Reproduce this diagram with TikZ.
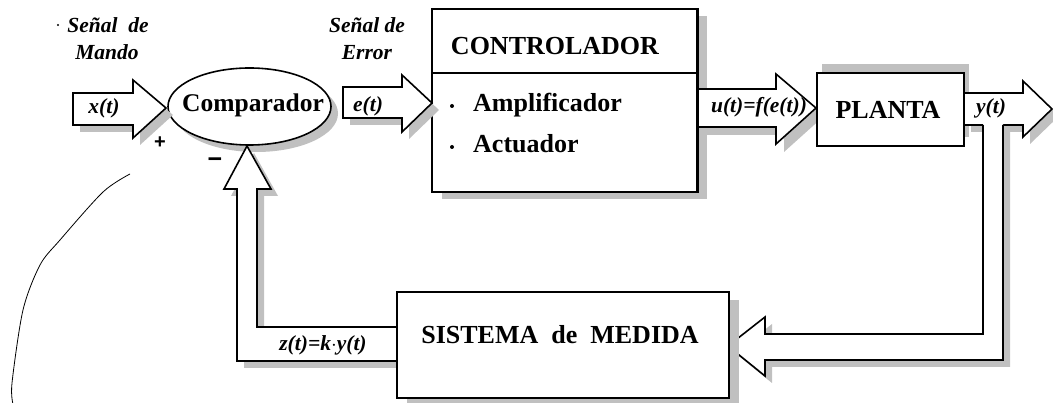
\documentclass[tikz,border=0pt]{standalone}
\usepackage{fontspec}
\setmainfont{Liberation Serif}
\newfontfamily\sansf{Liberation Sans}
\usetikzlibrary{shapes.geometric,shadows}
\definecolor{shd}{HTML}{C0C0C0}
\tikzset{
  blk/.style={draw=black,fill=white,line width=1.6pt},
  shd/.style={fill=shd,draw=none},
  boxtxt/.style={font=\fontsize{26}{30}\selectfont\bfseries,inner sep=0pt},
  lbl/.style={font=\fontsize{21.5}{26}\selectfont\bfseries\itshape,inner sep=0pt,anchor=base},
  sgn/.style={font=\sansf\bfseries\fontsize{20}{20}\selectfont,inner sep=0pt},
  shbox/.style 2 args={drop shadow={shadow xshift=#1pt,shadow yshift=#2pt,fill=shd,opacity=1}}
}
\begin{document}
\begin{tikzpicture}[x=1pt,y=-1pt,line join=miter]
\useasboundingbox (0,0) rectangle (1053,403);

% thin curve at left
\draw[line width=0.8pt] plot[smooth] coordinates {(130,174) (103,192) (60,240) (40,265) (23,310) (12,383) (13,404)};
\fill (58,25) circle (1.2);

% labels above
\node[lbl] (mando1) at (108,33) {Señal\ \ de};
\node[lbl] (mando2) at (107,60) {Mando};
\node[lbl] (error1) at (367,33) {Señal de};
\node[lbl] (error2) at (367,60) {Error};

% CONTROLADOR box
\node[blk,shbox={10}{-7},minimum width=265pt,minimum height=183pt,inner sep=0pt] (ctrl) at (564.5,100.5) {};
\draw[line width=1.6pt] (ctrl.west |- 0,73) coordinate (dl) -- (ctrl.east |- 0,73) coordinate (dr);
\node[boxtxt,anchor=base] (ctrlt) at (555,55) {CONTROLADOR};
\fill (452,106) circle (2);
\fill (452,147) circle (2);
\node[boxtxt,anchor=base west] (amp) at (473,112) {Amplificador};
\node[boxtxt,anchor=base west] (act) at (473,153) {Actuador};

% comparador ellipse
\node[blk,ellipse,shbox={7}{-7},minimum width=163pt,minimum height=77pt,inner sep=0pt] (comp) at (249.5,106.5) {};
\node[boxtxt,anchor=base,font=\fontsize{25.5}{30}\selectfont\bfseries] (compt) at (253,112) {Comparador};

% x(t) arrow
\fill[shd,shift={(7,7)}] (73,93) -- (133,93) -- (133,80) -- (166,108) -- (133,138) -- (133,125) -- (73,125) -- cycle;
\filldraw[blk] (73,93) -- (133,93) -- (133,80) -- (166,108) -- (133,138) -- (133,125) -- (73,125) -- cycle;
\node[lbl] (xt) at (104,114) {x(t)};

% e(t) arrow
\fill[shd,shift={(7,7)}] (343,87) -- (402,87) -- (402,75) -- (432,103) -- (402,132) -- (402,118) -- (343,118) -- cycle;
\filldraw[blk] (343,87) -- (402,87) -- (402,75) -- (432,103) -- (402,132) -- (402,118) -- (343,118) -- cycle;
\node[lbl] (et) at (368,112) {e(t)};

% u(t) arrow
\fill[shd,shift={(8,8)}] (697,89) -- (776,89) -- (776,74) -- (816,108) -- (776,144) -- (776,127) -- (697,127) -- cycle;
\filldraw[blk] (697,89) -- (776,89) -- (776,74) -- (816,108) -- (776,144) -- (776,127) -- (697,127) -- cycle;
\draw[line width=1.6pt] (ctrl.north east) -- (ctrl.south east);
\node[lbl] (ut) at (759,113) {u(t)=f(e(t))};

% PLANTA box
\node[blk,shbox={5}{9},minimum width=147pt,minimum height=73pt,inner sep=0pt] (planta) at (890.5,109.5) {};
\node[boxtxt,anchor=base] (plantat) at (888,119) {PLANTA};

% y(t) arrow
\fill[shd,shift={(7,7)}] (964,93) -- (1023,93) -- (1023,81) -- (1052,109) -- (1023,137) -- (1023,125) -- (964,125) -- cycle;
\filldraw[blk] (964,93) -- (1023,93) -- (1023,81) -- (1052,109) -- (1023,137) -- (1023,125) -- (964,125) -- cycle;
\node[lbl] (yt) at (991,114) {y(t)};

% right feedback pipe
\fill[shd,shift={(7,7)}] (983,120) -- (983,334) -- (765,334) -- (765,317) -- (728,346) -- (765,376) -- (765,360) -- (1003,360) -- (1003,120) -- cycle;
\fill[white] (983,118) -- (983,334) -- (765,334) -- (765,317) -- (728,346) -- (765,376) -- (765,360) -- (1003,360) -- (1003,118) -- cycle;
\draw[line width=1.6pt] (983,125) -- (983,334) -- (765,334) -- (765,317) -- (728,346) -- (765,376) -- (765,360) -- (1003,360) -- (1003,125);

% left feedback pipe
\fill[shd,shift={(7,7)}] (397,327) -- (257,327) -- (257,189) -- (271,189) -- (247,146) -- (224,189) -- (237,189) -- (237,361) -- (397,361) -- cycle;
\fill[white] (397,327) -- (257,327) -- (257,189) -- (271,189) -- (247,146) -- (224,189) -- (237,189) -- (237,361) -- (397,361) -- cycle;
\draw[line width=1.6pt] (397,327) -- (257,327) -- (257,189) -- (271,189) -- (247,146) -- (224,189) -- (237,189) -- (237,361) -- (397,361);
\node[lbl] (zt) at (323,351) {z(t)=k$\cdot$y(t)};

% SISTEMA de MEDIDA box
\node[blk,shbox={10}{-8},minimum width=332pt,minimum height=106pt,inner sep=0pt] (sm) at (563,345) {};
\node[boxtxt,anchor=base] (smt) at (560,344) {SISTEMA\ \ de\ \ MEDIDA};

% signs
\node[sgn] (plus) at (160,143) {+};
\node[sgn,font=\sansf\bfseries\fontsize{25}{25}\selectfont] (minus) at (215,163) {−};
\end{tikzpicture}
\end{document}
